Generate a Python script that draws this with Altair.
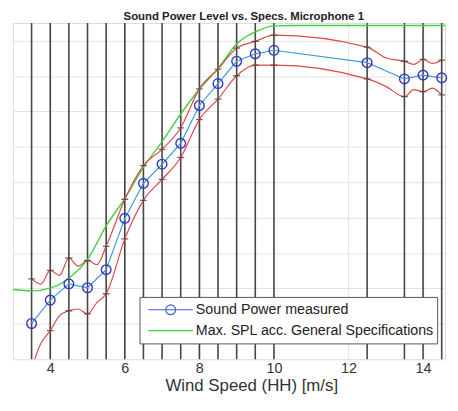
import altair as alt
import pandas as pd

# ---- data ----
wind = [3.5, 4, 4.5, 5, 5.5, 6, 6.5, 7, 7.5, 8, 8.5, 9, 9.5, 10, 12.5, 13.5, 14, 14.5]
measured = [96.01, 96.67, 97.13, 97.02, 97.53, 98.98, 99.97, 100.51, 101.10, 102.17,
            102.79, 103.42, 103.63, 103.73, 103.38, 102.92, 103.03, 102.95]
err_upper = [97.27, 97.51, 97.86, 97.79, 98.19, 99.52, 100.47, 100.93, 101.54, 102.64,
             103.20, 103.79, 103.98, 104.16, 103.82, 103.42, 103.47, 103.45]
err_lower = [94.75, 95.81, 96.37, 96.28, 96.85, 98.40, 99.49, 100.08, 100.70, 101.77,
             102.35, 103.01, 103.31, 103.31, 102.92, 102.42, 102.56, 102.47]

band_x = [3.5, 3.75, 4, 4.25, 4.5, 4.75, 5, 5.25, 5.5, 6, 6.5, 7, 7.5, 8, 8.5, 9, 9.5, 10,
          12.5, 13, 13.5, 13.75, 14, 14.25, 14.5]
band_upper = [97.27, 97.12, 97.51, 97.37, 97.86, 97.63, 97.79, 97.67, 98.19, 99.52, 100.47,
              100.93, 101.54, 102.64, 103.20, 103.79, 103.98, 104.16, 103.82, 103.52, 103.42,
              103.33, 103.47, 103.36, 103.45]
band_lower = [94.75, 95.45, 95.81, 96.23, 96.37, 96.42, 96.28, 96.60, 96.85, 98.40, 99.49,
              100.08, 100.70, 101.77, 102.35, 103.01, 103.31, 103.31, 102.92, 102.71, 102.42,
              102.62, 102.56, 102.66, 102.47]

spec_x = [3, 3.5, 4, 4.5, 5, 5.5, 6, 6.5, 7, 7.5, 8, 8.5, 9, 9.5, 10, 10.5, 15]
spec_y = [96.97, 96.93, 97.01, 97.29, 97.82, 98.77, 99.54, 100.42, 101.15, 101.93, 102.63,
          103.21, 103.91, 104.25, 104.42, 104.43, 104.43]

x_ticks = [4, 6, 8, 10, 12, 14]
y_grid = [96, 97, 98, 99, 100, 101, 102, 103, 104]
series_names = ["Sound Power measured", "Max. SPL acc. General Specifications"]

# ---- tables ----
meas = pd.DataFrame({"ws": wind, "spl": measured, "up": err_upper, "lo": err_lower})
band = pd.DataFrame({"ws": band_x, "up": band_upper, "lo": band_lower})
spec = pd.DataFrame({"ws": spec_x, "spl": spec_y})
leg = pd.DataFrame({"series": series_names})

FONT = "Liberation Sans"
xscale = alt.Scale(domain=[3, 14.59], nice=False, zero=False)
yscale = alt.Scale(domain=[95, 104.5], nice=False, zero=False)

xaxis = alt.Axis(values=x_ticks, grid=True, gridColor="#e3e3e3", domain=False, ticks=False,
                 labelFontSize=14.5, labelColor="#333", labelPadding=2, labelFont=FONT,
                 title="Wind Speed (HH) [m/s]", titleFontSize=17, titleFontWeight="normal",
                 titleColor="#333", titleFont=FONT, titlePadding=3, titleX=241)
yaxis = alt.Axis(values=y_grid, grid=True, gridColor="#e3e3e3", domain=False, ticks=False,
                 labels=False, title=None)

X = alt.X("ws:Q", scale=xscale, axis=xaxis)
Y = alt.Y("spl:Q", scale=yscale, axis=yaxis)

vrules = alt.Chart(meas).mark_rule(color="#454545", strokeWidth=1.6).encode(x=X)

green = alt.Chart(spec).mark_line(color="#3fd03f", strokeWidth=1.4, interpolate="monotone",
                                  clip=True).encode(x=X, y=Y)

red_up = alt.Chart(band).mark_line(color="#e04848", strokeWidth=1.2, interpolate="monotone",
                                   clip=True).encode(x=X, y=alt.Y("up:Q", scale=yscale, axis=yaxis))
red_lo = alt.Chart(band).mark_line(color="#e04848", strokeWidth=1.2, interpolate="monotone",
                                   clip=True).encode(x=X, y=alt.Y("lo:Q", scale=yscale, axis=yaxis))

caps_up = alt.Chart(meas).mark_tick(orient="horizontal", size=7, thickness=1.3, color="#333",
                                    clip=True).encode(x=X, y=alt.Y("up:Q", scale=yscale, axis=yaxis))
caps_lo = alt.Chart(meas).mark_tick(orient="horizontal", size=7, thickness=1.3, color="#333",
                                    clip=True).encode(x=X, y=alt.Y("lo:Q", scale=yscale, axis=yaxis))

blue_line = alt.Chart(meas).mark_line(color="#3f9bd6", strokeWidth=1.2).encode(x=X, y=Y)
blue_pts = alt.Chart(meas).mark_point(shape="circle", size=95, filled=False, color="#3535cc",
                                      strokeWidth=1.4, opacity=1).encode(x=X, y=Y)

line_circle = ("M-1,0L1,0M0.22,0A0.22,0.22,0,1,1,-0.22,0A0.22,0.22,0,1,1,0.22,0")
line_only = "M-1,0L1,0"

legend_layer = alt.Chart(leg).mark_point(opacity=0, filled=False).encode(
    color=alt.Color("series:N",
                    scale=alt.Scale(domain=series_names, range=["#4a5fd0", "#3fd03f"]),
                    legend=alt.Legend(orient="none", legendX=128, legendY=277, title=None,
                                      direction="vertical", symbolSize=2025,
                                      symbolStrokeWidth=1.2, symbolOpacity=1,
                                      clipHeight=20, rowPadding=1, padding=3,
                                      symbolOffset=5, labelOffset=2,
                                      labelFontSize=14.4, labelFont=FONT, labelColor="#222",
                                      labelLimit=400, strokeColor="#555", fillColor="white")),
    shape=alt.Shape("series:N", scale=alt.Scale(domain=series_names,
                                                range=[line_circle, line_only]),
                    legend=None),
)

chart = alt.layer(
    vrules, green, red_up, red_lo, blue_line, blue_pts, caps_up, caps_lo, legend_layer
).properties(
    width=437, height=340,
    padding={"left": 5, "top": 0, "right": 0, "bottom": 0},
    title=alt.TitleParams("Sound Power Level vs. Specs. Microphone 1", fontSize=11.5,
                          fontWeight="bold", font=FONT, color="#222", offset=0,
                          anchor="middle", dx=15),
).configure_view(stroke="#666", strokeWidth=1).configure(font=FONT, background="white")

chart.save("out.html", embed_options={"renderer": "svg", "actions": False})
